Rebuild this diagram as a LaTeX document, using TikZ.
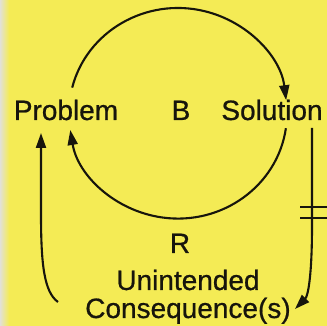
\documentclass[tikz,border=0pt]{standalone}
\usepackage{fontspec}
\setmainfont[AutoFakeBold=0.7]{Liberation Sans}
\usetikzlibrary{arrows.meta}
\definecolor{bgyellow}{HTML}{F4EB55}
\definecolor{stripgrey}{HTML}{E2E1D6}
\definecolor{ink}{HTML}{17150C}
\begin{document}
\begin{tikzpicture}[x=1pt,y=1pt,
  lbl/.style={inner sep=0pt, anchor=base, text=ink, font=\fontsize{28}{30}\selectfont\bfseries},
  link/.style={draw=ink, line width=2.1pt, -{Triangle[length=15pt,width=10pt]}},
  delaymark/.style={draw=ink, line width=2.1pt}]
\useasboundingbox (0,0) rectangle (327,326);
\fill[bgyellow] (0,0) rectangle (327,326);
\shade[left color=stripgrey, right color=bgyellow] (0,0) rectangle (9,326);
\node[lbl] (prob) at (66,206) {Problem};
\node[lbl] (sol) at (272,206) {Solution};
\node[lbl] (B) at (181,206) {B};
\node[lbl] (R) at (180,73) {R};
\node[lbl] (unint) at (188,36) {Unintended};
\node[lbl] (cons) at (188,8) {Consequence(s)};
% named connector ends
\coordinate (pTop) at (72.2,238.4);
\coordinate (sBot) at (285.9,197.8);
\coordinate (cLeft) at (58,24);
\coordinate (pLeft) at (41,193);
\coordinate (sRight) at (312,198);
\coordinate (cRight) at (295,17);
% balancing loop: problem -> solution
\draw[link] (pTop) arc[start angle=166, end angle=7, x radius=109pt, y radius=105pt];
% solution -> problem
\draw[link] (sBot) arc[start angle=-8, end angle=-171, x radius=109pt, y radius=105pt];
% consequences -> problem
\draw[link] (cLeft) .. controls (44,34) and (41,62) .. (41,112) -- (pLeft);
% solution -> consequences (with delay)
\draw[link] (sRight) -- (312,100) .. controls (312,50) and (308,30) .. (cRight);
\draw[delaymark] (300,119) -- (327,119);
\draw[delaymark] (300,108) -- (327,108);
\end{tikzpicture}
\end{document}
